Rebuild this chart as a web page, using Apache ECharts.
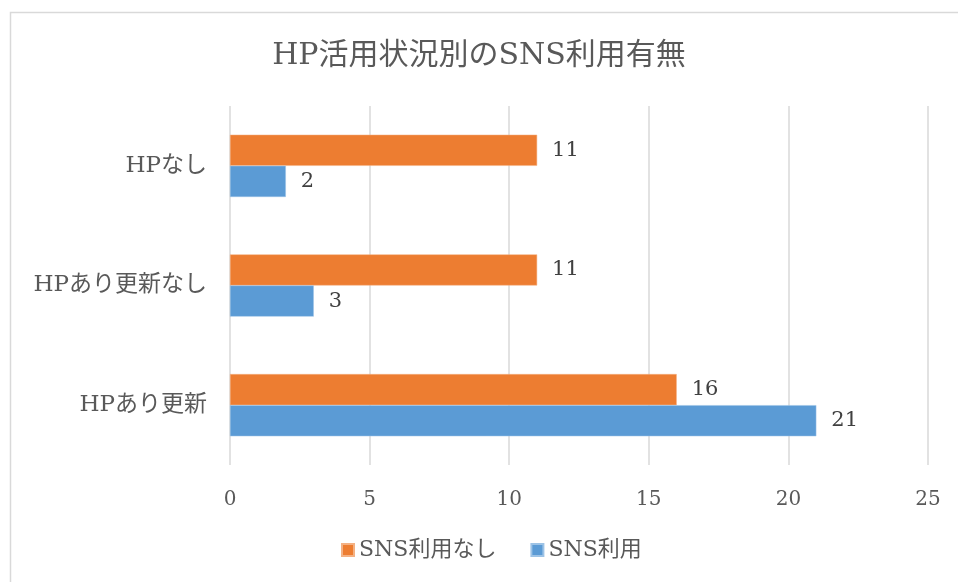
<!DOCTYPE html>
<html>
<head>
<meta charset="utf-8">
<title>HP活用状況別のSNS利用有無</title>
<script src="https://cdn.jsdelivr.net/npm/echarts@6/dist/echarts.min.js"></script>
<style>
    html, body { margin: 0; padding: 0; background: #fff; }
    #main { width: 958px; height: 582px; }
</style>
</head>
<body>
<div id="main"></div>
<script>
// categories listed bottom to top (category axis starts at the bottom)
var categories = ['HPあり更新', 'HPあり更新なし', 'HPなし'];
var snsNone = [16, 11, 11];
var snsUse = [21, 3, 2];
var xTicks = [0, 5, 10, 15, 20, 25];

var fontFam = '"DejaVu Serif", "Liberation Serif", "Noto Sans CJK JP", serif';

var dom = document.getElementById('main');
var myChart = echarts.init(dom, null, {
    renderer: 'canvas',
    useDirtyRect: false
});

var option;

option = {
    backgroundColor: '#fff',
    animation: false,
    textStyle: {
        fontFamily: fontFam
    },
    title: {
        text: 'HP活用状況別のSNS利用有無',
        left: 'center',
        top: 36,
        textStyle: {
            color: '#595959',
            fontSize: 30,
            fontWeight: 'normal',
            fontFamily: fontFam
        }
    },
    graphic: [{
        type: 'rect',
        shape: { x: 10.5, y: 12.5, width: 1000, height: 700 },
        style: { fill: 'none', stroke: '#d9d9d9', lineWidth: 1.5 },
        silent: true
    }],
    legend: {
        data: ['SNS利用なし', 'SNS利用'],
        bottom: 16,
        left: 336,
        itemWidth: 12,
        itemHeight: 12,
        itemGap: 34,
        icon: 'rect',
        textStyle: {
            color: '#595959',
            fontSize: 22,
            fontFamily: fontFam
        }
    },
    grid: {
        left: 230,
        right: 30,
        top: 106,
        bottom: 117,
        containLabel: false
    },
    xAxis: {
        type: 'value',
        min: xTicks[0],
        max: xTicks[xTicks.length - 1],
        interval: xTicks[1] - xTicks[0],
        axisLine: { show: false },
        axisTick: { show: false },
        splitLine: { lineStyle: { color: '#d9d9d9', width: 1.5 } },
        axisLabel: {
            color: '#595959',
            fontSize: 20,
            margin: 25,
            fontFamily: fontFam
        }
    },
    yAxis: {
        type: 'category',
        data: categories,
        axisLine: { show: false },
        axisTick: { show: false },
        axisLabel: {
            color: '#595959',
            fontSize: 23,
            margin: 23,
            fontFamily: fontFam
        }
    },
    series: [
        {
            name: 'SNS利用なし',
            type: 'bar',
            data: snsNone,
            barGap: '0%',
            barCategoryGap: '48%',
            itemStyle: { color: '#ED7D31', borderColor: '#f4b183', borderWidth: 0.5 },
            label: {
                show: true,
                position: 'right',
                distance: 15,
                color: '#404040',
                fontSize: 21,
                fontFamily: fontFam
            }
        },
        {
            name: 'SNS利用',
            type: 'bar',
            data: snsUse,
            barGap: '0%',
            barCategoryGap: '48%',
            itemStyle: { color: '#5B9BD5', borderColor: '#9dc3e6', borderWidth: 0.5 },
            label: {
                show: true,
                position: 'right',
                distance: 15,
                color: '#404040',
                fontSize: 21,
                fontFamily: fontFam
            }
        }
    ]
};

if (option && typeof option === 'object') {
    myChart.setOption(option);
}

window.addEventListener('resize', myChart.resize);
</script>
</body>
</html>
